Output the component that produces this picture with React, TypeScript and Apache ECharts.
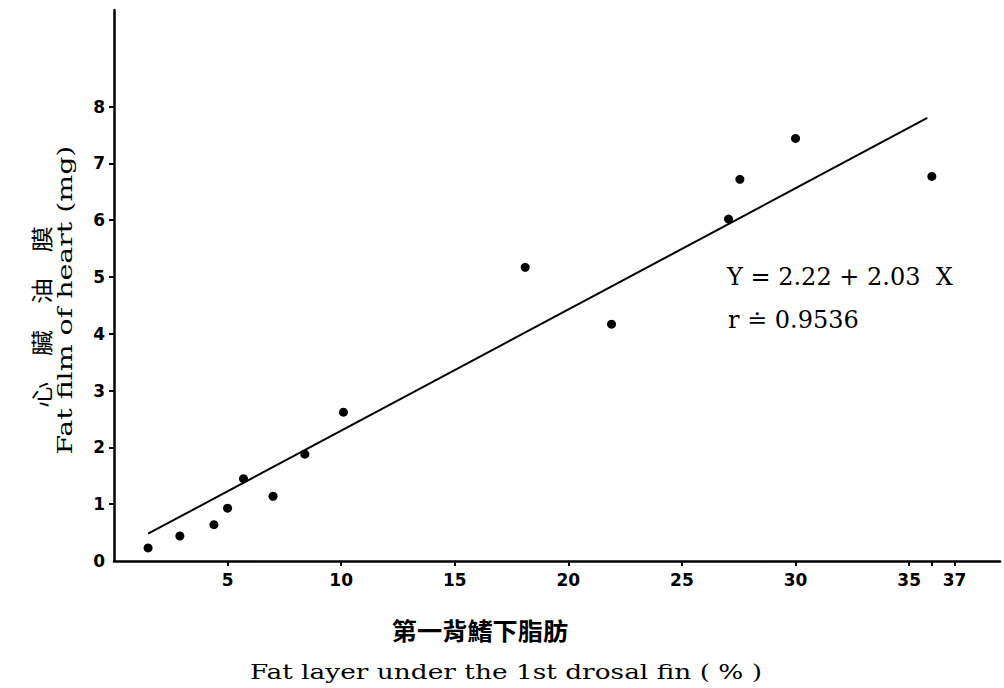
import React, { useEffect, useRef } from "react";
import * as echarts from "echarts";

// Scatter data
const fatLayerPct = [1.5, 2.9, 4.4, 5.0, 5.7, 7.0, 8.4, 10.1, 18.1, 21.9, 27.05, 27.55, 30.0, 36.0];
const heartFatMg = [0.23, 0.44, 0.64, 0.93, 1.45, 1.14, 1.88, 2.62, 5.17, 4.17, 6.02, 6.72, 7.44, 6.77];

// Drawn regression line end points
const fitLineX = [1.5, 35.8];
const fitLineY = [0.48, 7.8];

// Axis ticks and labels
const xTickValues = [5, 10, 15, 20, 25, 30, 35, 36, 37];
const xLabelValues = [5, 10, 15, 20, 25, 30, 35, 37];
const yTickValues = [1, 2, 3, 4, 5, 6, 7, 8];
const yLabelValues = [0, 1, 2, 3, 4, 5, 6, 7, 8];

// Texts
const yTitleZh = "心　臟　油　膜";
const yTitleEn = "Fat film of heart (mg)";
const xTitleZh = "第一背鰭下脂肪";
const xTitleEn = "Fat layer under the 1st drosal fin ( % )";
const equationText = "Y = 2.22 + 2.03  X";
const rText = "r ≐ 0.9536";

export default function App() {
  const ref = useRef<HTMLDivElement>(null);

  useEffect(() => {
    if (!ref.current) return;
    const chart = echarts.init(ref.current, undefined, { renderer: "svg" });
    const points = fatLayerPct.map((x, i) => [x, heartFatMg[i]]);
    const line = fitLineX.map((x, i) => [x, fitLineY[i]]);
    const axisFont = {
      fontFamily: "DejaVu Sans",
      fontWeight: "bold" as const,
      fontSize: 17,
      color: "#000",
    };
    const txt = (
      text: string,
      x: number,
      y: number,
      font: string,
      extra: any = {},
      align: string = "center"
    ) => ({
      type: "text",
      x,
      y,
      ...extra,
      style: {
        text,
        font,
        fill: "#000",
        textAlign: align,
        textVerticalAlign: "middle",
        align,
        verticalAlign: "middle",
      },
    });

    chart.setOption({
      animation: false,
      backgroundColor: "#fff",
      grid: { left: 114, right: 4, top: 10, bottom: 127, containLabel: false },
      xAxis: {
        type: "value",
        min: 0,
        max: 39,
        splitLine: { show: false },
        axisLine: { show: true, lineStyle: { color: "#000", width: 2.5 } },
        axisTick: {
          show: true,
          customValues: xTickValues,
          length: 5,
          lineStyle: { color: "#000", width: 2 },
        },
        axisLabel: {
          customValues: xLabelValues,
          margin: 10,
          ...axisFont,
        },
      },
      yAxis: {
        type: "value",
        min: 0,
        max: 9.7,
        splitLine: { show: false },
        axisLine: { show: true, lineStyle: { color: "#000", width: 2.5 } },
        axisTick: {
          show: true,
          customValues: yTickValues,
          length: 5,
          lineStyle: { color: "#000", width: 2 },
        },
        axisLabel: {
          customValues: yLabelValues,
          margin: 9,
          ...axisFont,
        },
      },
      series: [
        {
          type: "line",
          data: line,
          showSymbol: false,
          symbol: "none",
          lineStyle: { color: "#000", width: 2 },
          silent: true,
        },
        {
          type: "scatter",
          data: points,
          symbol: "circle",
          symbolSize: 9,
          itemStyle: { color: "#000", opacity: 1 },
        },
      ],
      graphic: [
        txt(yTitleZh, 40, 317, '22px "Noto Sans CJK TC"', {
          rotation: Math.PI / 2,
          scaleX: 1.18,
        }),
        txt(yTitleEn, 65, 300, '20px "DejaVu Serif"', {
          rotation: Math.PI / 2,
          scaleX: 1.42,
        }),
        txt(xTitleZh, 480, 629, 'bold 24px "Noto Sans CJK TC"', { scaleX: 1.05 }),
        txt(xTitleEn, 506, 672, '20px "DejaVu Serif"', { scaleX: 1.32 }),
        txt(equationText, 727, 277, '24px "DejaVu Serif"', {}, "left"),
        txt(rText, 728, 320, '24px "DejaVu Serif"', {}, "left"),
      ],
    });
    return () => chart.dispose();
  }, []);

  return (
    <div
      ref={ref}
      style={{ position: "fixed", left: 0, top: 0, width: 1004, height: 688, background: "#fff" }}
    />
  );
}
